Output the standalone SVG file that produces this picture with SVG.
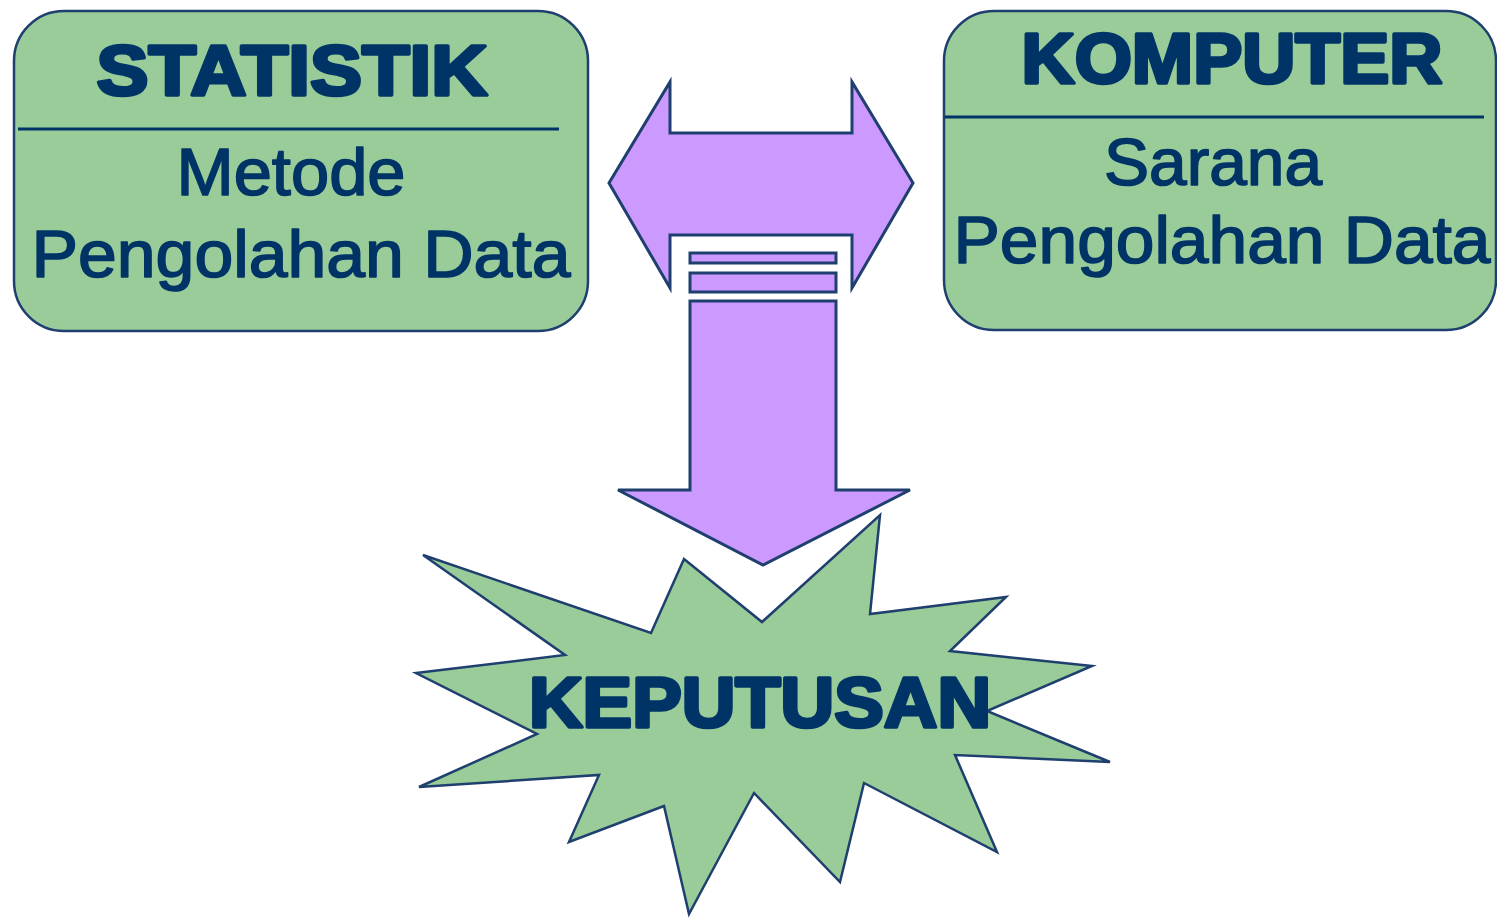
<svg xmlns="http://www.w3.org/2000/svg" width="1497" height="921" viewBox="0 0 1497 921">
<style>
.box{fill:#99CC99;stroke:#1F3F6F;stroke-width:2.5}
.div{stroke:#003366;stroke-width:3}
.arrow{fill:#CC99FF;stroke:#1F3F6F;stroke-width:3;stroke-linejoin:miter}
.title{font-family:"Liberation Sans",Arial,sans-serif;font-weight:bold;fill:#003366;stroke:#003366;stroke-width:3.6;stroke-linejoin:round;text-anchor:middle}
.body{font-family:"Liberation Sans",Arial,sans-serif;fill:#003366;stroke:#003366;stroke-width:1.6;stroke-linejoin:round;text-anchor:middle}
</style>
<rect width="1497" height="921" fill="#FFFFFF"/>
<g id="statistik">
<rect class="box" x="14" y="11" width="574" height="320" rx="50" ry="50"/>
<line class="div" x1="18" y1="129" x2="559" y2="129"/>
<text class="title" x="292" y="95" font-size="71" textLength="391" lengthAdjust="spacingAndGlyphs">STATISTIK</text>
<text class="body" x="291" y="195" font-size="66" textLength="229" lengthAdjust="spacingAndGlyphs">Metode</text>
<text class="body" x="301" y="277" font-size="67" textLength="539" lengthAdjust="spacingAndGlyphs">Pengolahan Data</text>
</g>
<g id="komputer">
<rect class="box" x="944" y="11" width="552" height="319" rx="50" ry="50"/>
<line class="div" x1="945" y1="117" x2="1484" y2="117"/>
<text class="title" x="1232" y="83" font-size="70" textLength="421" lengthAdjust="spacingAndGlyphs">KOMPUTER</text>
<text class="body" x="1213" y="185" font-size="66" textLength="218" lengthAdjust="spacingAndGlyphs">Sarana</text>
<text class="body" x="1222" y="263" font-size="67" textLength="537" lengthAdjust="spacingAndGlyphs">Pengolahan Data</text>
</g>
<g id="keputusan">
<polygon class="box" points="423,555 651,633 684,559 762,622 880,515 870,614 1006,597 950,651 1092,666 987,711 1110,762 955,755 997,852 864,783 840,882 754,793 689,914 664,806 569,842 599,775 419,787 537,734 416,673 565,655"/>
<text class="title" x="760" y="727" font-size="70" textLength="462" lengthAdjust="spacingAndGlyphs">KEPUTUSAN</text>
</g>
<g id="connectors">
<polygon class="arrow" points="609,183 670,82 670,133 852,133 852,82 913,183 852,288 852,235 670,235 670,288"/>
<rect class="arrow" x="690" y="253" width="146" height="10"/>
<rect class="arrow" x="690" y="273" width="146" height="19"/>
<polygon class="arrow" points="690,301 836,301 836,490 910,490 763,565 618,490 690,490"/>
</g>
</svg>
